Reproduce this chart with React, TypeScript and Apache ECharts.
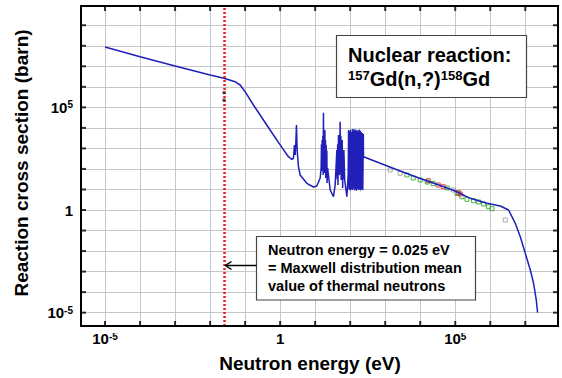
import React, { useEffect, useRef } from 'react';
import * as echarts from 'echarts';

const FONT = '"Liberation Sans", Arial, Helvetica, sans-serif';

// Evaluated 157Gd(n,γ) cross section, pairs of [log10(E / eV), log10(σ / barn)]
const thermalRegion: [number, number][] = [
  [-5.0, 7.94], [-4.0, 7.467], [-3.0, 7.014], [-2.0, 6.576], [-1.603, 6.415],
  [-1.286, 6.249], [-1.143, 6.089], [-1.0, 5.762], [-0.763, 5.114], [-0.477, 4.384],
  [-0.191, 3.653], [0.049, 3.054], [0.237, 2.596], [0.334, 2.47], [0.38, 2.518],
];
const resonanceRegion: [number, number][] = [
  [0.409, 3.166], [0.429, 2.679], [0.449, 3.312], [0.466, 4.14], [0.486, 2.923],
  [0.523, 2.109], [0.571, 1.705], [0.763, 1.3], [0.951, 1.12], [1.049, 1.169],
  [1.143, 1.559], [1.171, 2.046], [1.18, 3.2], [1.19, 1.9], [1.2, 3.41],
  [1.21, 2.0], [1.22, 3.6], [1.228, 1.705], [1.237, 4.739], [1.245, 2.2],
  [1.257, 3.5], [1.265, 1.8], [1.277, 3.897], [1.285, 1.9], [1.294, 3.4],
  [1.302, 1.559], [1.314, 3.166], [1.322, 1.6], [1.334, 2.9], [1.34, 1.315],
  [1.357, 2.046], [1.429, 0.974], [1.523, 0.648], [1.571, 1.218], [1.62, 2.923],
  [1.63, 1.5], [1.643, 3.2], [1.652, 1.218], [1.666, 3.653], [1.675, 1.9],
  [1.686, 3.4], [1.695, 1.705], [1.714, 4.301], [1.722, 1.8], [1.733, 3.6],
  [1.743, 1.461], [1.753, 3.3], [1.763, 1.6], [1.773, 3.41], [1.786, 1.072],
  [1.797, 2.8], [1.809, 1.5], [1.82, 2.923], [1.843, 1.461], [1.906, 0.648],
  [1.943, 1.705], [1.955, 3.9], [1.97, 1.0], [1.985, 3.85], [2.0, 0.95],
  [2.015, 3.92], [2.03, 1.02], [2.045, 3.8], [2.06, 0.98], [2.075, 3.95],
  [2.09, 1.05], [2.105, 3.88], [2.12, 0.96], [2.135, 3.93], [2.15, 1.0],
  [2.165, 3.86], [2.18, 0.94], [2.195, 3.9], [2.21, 1.03], [2.225, 3.84],
  [2.24, 0.97], [2.255, 3.92], [2.27, 1.0], [2.285, 3.87], [2.3, 0.95],
  [2.315, 3.8], [2.33, 1.02], [2.345, 3.75], [2.36, 0.98], [2.375, 3.7],
];
const fastRegion: [number, number][] = [
  [2.38, 2.596], [2.857, 2.275], [3.429, 1.9], [4.0, 1.534], [4.571, 1.193],
  [5.0, 0.925], [5.429, 0.57], [5.906, 0.326], [6.286, 0.195], [6.523, 0.0],
  [6.714, -0.648], [6.857, -1.301], [7.0, -2.109], [7.143, -2.923], [7.237, -3.57],
  [7.314, -4.384], [7.351, -5.002],
];

// Experimental points, [log10(E / eV), log10(σ / barn)]
const grayPoints: [number, number][] = [
  [3.143, 1.948], [3.429, 1.788], [4.943, 0.974], [6.429, -0.487],
];
const greenPoints: [number, number][] = [
  [3.62, 1.705], [3.8, 1.559], [4.0, 1.461], [4.2, 1.364], [4.371, 1.291],
  [4.771, 1.072], [5.049, 0.813], [5.191, 0.648], [5.334, 0.521], [5.523, 0.453],
  [5.666, 0.39], [5.809, 0.292], [5.951, 0.161], [6.049, 0.063],
];
const redPoints: [number, number][] = [
  [4.229, 1.427], [4.514, 1.218], [4.657, 1.135], [5.094, 0.843], [5.143, 0.779],
];
const thermalEnergy = 0.025; // eV
const thermalPointLogSigma = [5.714, 5.358];

// Axis decades (log10) that carry a tick, and those that carry a label
const xTickExponents = [-5, -4, -3, -2, -1, 0, 1, 2, 3, 4, 5, 6, 7];
const yTickExponents = [-5, -4, -3, -2, -1, 0, 1, 2, 3, 4, 5, 6, 7, 8, 9];
const labelExponents = [-5, 0, 5];
const xRange = [-5.686, 7.934];
const yRange = [-5.65, 9.937];

const powLabel = (v: number) => {
  const r = Math.round(v);
  if (Math.abs(v - r) > 1e-6 || !labelExponents.includes(r)) return '';
  if (r === 0) return '{b|1}';
  return `{b|10}{s|${r}}`;
};

const labelRich = () => ({
  b: { fontSize: 15, fontWeight: 'bold', fontFamily: FONT, color: '#000' },
  s: { fontSize: 10, fontWeight: 'bold', fontFamily: FONT, color: '#000', verticalAlign: 'top' },
});

const axisLineStyle = () => ({ show: true, onZero: false, lineStyle: { color: '#000', width: 2 } });
const split = () => ({ show: true, lineStyle: { color: '#c6c6c6', width: 1 } });
const TICK_LEN = 5;

const tickSeries = (data: number[][], size: number[], offset: number[]) => ({
  type: 'scatter', data, symbol: 'rect', symbolSize: size, symbolOffset: offset,
  itemStyle: { color: '#000' }, clip: false, silent: true, z: 6,
});

export default function App() {
  const ref = useRef<HTMLDivElement>(null);
  useEffect(() => {
    if (!ref.current) return;
    const chart = echarts.init(ref.current, undefined, { renderer: 'svg' });
    const thermalLogE = Math.log10(thermalEnergy);
    const hollow = (color: string) => ({ color: 'rgba(255,255,255,0)', borderColor: color, borderWidth: 1 });
    const xBase = {
      type: 'value', min: xRange[0], max: xRange[1], splitNumber: 14, minInterval: 1, maxInterval: 1,
    };
    const yBase = {
      type: 'value', min: yRange[0], max: yRange[1], splitNumber: 15, minInterval: 1, maxInterval: 1,
    };
    chart.setOption({
      animation: false,
      backgroundColor: '#fff',
      grid: { left: 81, top: 6, width: 477, height: 320, containLabel: false, outerBoundsMode: 'none' },
      xAxis: [
        {
          ...xBase, position: 'bottom',
          axisLine: axisLineStyle(), axisTick: { show: false }, splitLine: split(),
          axisLabel: { formatter: powLabel, rich: labelRich(), margin: 5 },
        },
        {
          ...xBase, position: 'top',
          axisLine: axisLineStyle(), axisTick: { show: false }, splitLine: { show: false }, axisLabel: { show: false },
        },
      ],
      yAxis: [
        {
          ...yBase, position: 'left',
          axisLine: axisLineStyle(), axisTick: { show: false }, splitLine: split(),
          axisLabel: { formatter: powLabel, rich: labelRich(), margin: 8 },
        },
        {
          ...yBase, position: 'right',
          axisLine: axisLineStyle(), axisTick: { show: false }, splitLine: { show: false }, axisLabel: { show: false },
        },
      ],
      series: [
        // inward tick marks on the four sides of the frame
        tickSeries(xTickExponents.map((e) => [e, yRange[0]]), [2, TICK_LEN * 2], [0, 0]),
        tickSeries(xTickExponents.map((e) => [e, yRange[1]]), [2, TICK_LEN * 2], [0, 0]),
        tickSeries(yTickExponents.map((e) => [xRange[0], e]), [TICK_LEN * 2, 2], [0, 0]),
        tickSeries(yTickExponents.map((e) => [xRange[1], e]), [TICK_LEN * 2, 2], [0, 0]),
        {
          type: 'scatter', data: grayPoints, symbol: 'rect', symbolSize: 4, itemStyle: hollow('#9a9a9a'), z: 2,
        },
        {
          type: 'scatter', data: greenPoints, symbol: 'rect', symbolSize: 4, itemStyle: hollow('#1fa51f'), z: 2,
        },
        {
          type: 'scatter', data: redPoints, symbol: 'rect', symbolSize: 4, itemStyle: hollow('#d02020'), z: 2,
        },
        {
          type: 'line', data: [...thermalRegion, ...resonanceRegion, ...fastRegion],
          showSymbol: false, symbol: 'none',
          lineStyle: { color: '#2020b8', width: 1.5 }, z: 3,
          markLine: {
            silent: true, symbol: ['none', 'none'], label: { show: false },
            lineStyle: { color: '#ee1a1a', width: 2.5, type: [2, 2] },
            data: [{ xAxis: thermalLogE }],
            z: 4,
          },
        },
        {
          type: 'scatter', data: thermalPointLogSigma.map((s) => [thermalLogE, s]),
          symbol: 'rect', symbolSize: 3, itemStyle: { color: '#222' }, z: 5,
        },
      ],
      graphic: [
        // white masks outside the frame so that tick marks only show inward
        { type: 'rect', shape: { x: 0, y: 327, width: 562, height: 6 }, style: { fill: '#fff' }, z: 8 },
        { type: 'rect', shape: { x: 0, y: 0, width: 562, height: 5 }, style: { fill: '#fff' }, z: 8 },
        { type: 'rect', shape: { x: 74, y: 0, width: 6, height: 378 }, style: { fill: '#fff' }, z: 8 },
        { type: 'rect', shape: { x: 559, y: 0, width: 3, height: 378 }, style: { fill: '#fff' }, z: 8 },
        { type: 'line', shape: { x1: 81, y1: 5, x2: 81, y2: 327 }, style: { stroke: '#000', lineWidth: 2 }, z: 9 },
        { type: 'line', shape: { x1: 558, y1: 5, x2: 558, y2: 327 }, style: { stroke: '#000', lineWidth: 2 }, z: 9 },
        { type: 'line', shape: { x1: 80, y1: 6, x2: 559, y2: 6 }, style: { stroke: '#000', lineWidth: 2 }, z: 9 },
        { type: 'line', shape: { x1: 80, y1: 326, x2: 559, y2: 326 }, style: { stroke: '#000', lineWidth: 2 }, z: 9 },
        {
          type: 'text', x: 310, y: 363,
          style: { text: 'Neutron energy (eV)', font: `bold 19px ${FONT}`, fill: '#000', align: 'center', verticalAlign: 'middle' },
        },
        {
          type: 'text', x: 21, y: 163, rotation: Math.PI / 2,
          style: { text: 'Reaction cross section (barn)', font: `bold 19px ${FONT}`, fill: '#000', align: 'center', verticalAlign: 'middle' },
        },
        {
          type: 'rect', shape: { x: 336.5, y: 35.5, width: 190, height: 62 },
          style: { fill: '#fff', stroke: '#444', lineWidth: 1.2 }, z: 10,
        },
        {
          type: 'text', x: 348, y: 55, z: 11,
          style: { text: 'Nuclear reaction:', font: `bold 20px ${FONT}`, fill: '#000', align: 'left', verticalAlign: 'middle' },
        },
        {
          type: 'text', x: 348, y: 79, z: 11,
          style: {
            text: '{s|157}{b|Gd(n,?)}{s|158}{b|Gd}', align: 'left', verticalAlign: 'middle',
            rich: {
              b: { fontSize: 20, fontWeight: 'bold', fontFamily: FONT, fill: '#000' },
              s: { fontSize: 13, fontWeight: 'bold', fontFamily: FONT, fill: '#000', verticalAlign: 'top' },
            },
          },
        },
        {
          type: 'rect', shape: { x: 256.5, y: 236.5, width: 219, height: 63.5 },
          style: { fill: '#fff', stroke: '#444', lineWidth: 1.2 }, z: 10,
        },
        {
          type: 'text', x: 268, y: 250, z: 11,
          style: { text: 'Neutron energy = 0.025 eV', font: `bold 14.5px ${FONT}`, fill: '#000', align: 'left', verticalAlign: 'middle' },
        },
        {
          type: 'text', x: 268, y: 268, z: 11,
          style: { text: '= Maxwell distribution mean', font: `bold 14.5px ${FONT}`, fill: '#000', align: 'left', verticalAlign: 'middle' },
        },
        {
          type: 'text', x: 268, y: 286, z: 11,
          style: { text: 'value of thermal neutrons', font: `bold 14.5px ${FONT}`, fill: '#000', align: 'left', verticalAlign: 'middle' },
        },
        {
          type: 'line', shape: { x1: 256.5, y1: 265.5, x2: 225.5, y2: 265.5 },
          style: { stroke: '#000', lineWidth: 1.5 }, z: 11,
        },
        {
          type: 'polyline', shape: { points: [[231.5, 261.5], [225.5, 265.5], [231.5, 269.5]] },
          style: { stroke: '#000', lineWidth: 1.5, fill: 'none' }, z: 11,
        },
      ],
    });
    return () => chart.dispose();
  }, []);
  return <div ref={ref} style={{ position: 'fixed', left: 0, top: 0, width: 562, height: 378 }} />;
}
